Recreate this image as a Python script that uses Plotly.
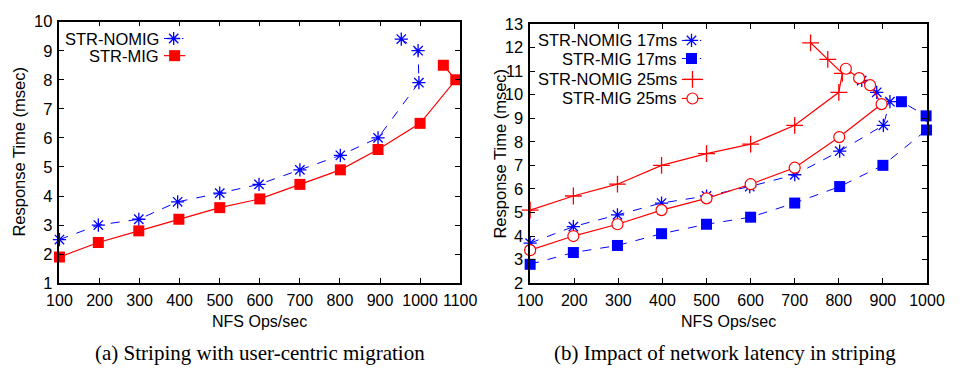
import plotly.graph_objects as go

# ---- data: (a) striping with user-centric migration
a_nomig_x = [100, 197, 298, 395, 500, 598, 700, 801, 895, 997, 995, 953]
a_nomig_y = [2.5, 3.0, 3.2, 3.8, 4.1, 4.4, 4.9, 5.4, 6.0, 7.9, 9.0, 9.4]
a_mig_x = [100, 197, 298, 398, 500, 600, 700, 801, 895, 1000, 1089, 1058]
a_mig_y = [1.9, 2.4, 2.8, 3.2, 3.6, 3.9, 4.4, 4.9, 5.6, 6.5, 8.0, 8.5]

# ---- data: (b) impact of network latency
b_nomig17_x = [100, 198, 298, 398, 500, 598, 700, 802, 901, 916, 886, 852]
b_nomig17_y = [3.7, 4.4, 4.9, 5.4, 5.7, 6.1, 6.6, 7.6, 8.7, 9.7, 10.1, 10.6]
b_mig17_x = [100, 198, 298, 398, 500, 600, 700, 802, 900, 999, 998, 942]
b_mig17_y = [2.8, 3.3, 3.6, 4.1, 4.5, 4.8, 5.4, 6.1, 7.0, 8.5, 9.1, 9.7]
b_nomig25_x = [100, 198, 298, 398, 500, 600, 700, 800, 808, 775, 736]
b_nomig25_y = [5.1, 5.7, 6.2, 7.0, 7.5, 7.9, 8.7, 10.1, 10.9, 11.5, 12.2]
b_mig25_x = [100, 198, 298, 398, 500, 600, 700, 801, 897, 871, 846, 816]
b_mig25_y = [3.4, 4.0, 4.5, 5.1, 5.6, 6.2, 6.9, 8.2, 9.6, 10.4, 10.7, 11.1]

a_xticks = [100, 200, 300, 400, 500, 600, 700, 800, 900, 1000, 1100]
a_yticks = list(range(1, 11))
b_xticks = [100, 200, 300, 400, 500, 600, 700, 800, 900, 1000]
b_yticks = list(range(2, 14))

legend_a = ["STR-NOMIG", "STR-MIG"]
legend_b = ["STR-NOMIG 17ms", "STR-MIG 17ms", "STR-NOMIG 25ms", "STR-MIG 25ms"]
captions = ["(a) Striping with user-centric migration",
            "(b) Impact of network latency in striping"]

W, H = 966, 375
BLUE = "#0000ff"
RED = "#ff0000"
SANS = "Liberation Sans"

styles = {
    "nomig17": dict(mode="lines+markers",
                    line=dict(color=BLUE, width=1, dash="dash"),
                    marker=dict(symbol="asterisk-open", size=11, color=BLUE,
                                line=dict(color=BLUE, width=1.3))),
    "mig17": dict(mode="lines+markers",
                  line=dict(color=BLUE, width=1, dash="dash"),
                  marker=dict(symbol="square", size=11, color=BLUE)),
    "nomig25": dict(mode="lines+markers",
                    line=dict(color=RED, width=1.2),
                    marker=dict(symbol="cross-thin-open", size=12, color=RED,
                                line=dict(color=RED, width=1.3))),
    "mig25": dict(mode="lines+markers",
                  line=dict(color=RED, width=1.2),
                  marker=dict(symbol="circle", size=11, color="white",
                              line=dict(color=RED, width=1.2))),
    "amig": dict(mode="lines+markers",
                 line=dict(color=RED, width=1.2),
                 marker=dict(symbol="square", size=11, color=RED)),
}

fig = go.Figure()

def add(x, y, style, xa, ya):
    fig.add_trace(go.Scatter(x=x, y=y, xaxis=xa, yaxis=ya, showlegend=False,
                             cliponaxis=False, hoverinfo="skip", **styles[style]))

add(a_nomig_x, a_nomig_y, "nomig17", "x", "y")
add(a_mig_x, a_mig_y, "amig", "x", "y")
add(b_mig17_x, b_mig17_y, "mig17", "x2", "y2")
add(b_nomig17_x, b_nomig17_y, "nomig17", "x2", "y2")
add(b_nomig25_x, b_nomig25_y, "nomig25", "x2", "y2")
add(b_mig25_x, b_mig25_y, "mig25", "x2", "y2")

# ---- gnuplot-style legends (text then sample) on a full-page pixel axis
leg_items = [
    (legend_a[0], "nomig17", 152, 156, 176, 31),
    (legend_a[1], "amig", 152, 156, 178, 49),
    (legend_b[0], "nomig17", 687, 691, 711, 33),
    (legend_b[1], "mig17", 687, 691, 711, 52),
    (legend_b[2], "nomig25", 687, 691, 713, 74),
    (legend_b[3], "mig25", 687, 691, 713, 94),
]
annotations = []
for text, st, tx, x0, x1, yy in leg_items:
    s = styles[st]
    fig.add_trace(go.Scatter(x=[x0, x1], y=[yy, yy], xaxis="x3", yaxis="y3",
                             mode="lines", line=s["line"], showlegend=False,
                             hoverinfo="skip", cliponaxis=False))
    fig.add_trace(go.Scatter(x=[(x0 + x1) / 2], y=[yy], xaxis="x3", yaxis="y3",
                             mode="markers", marker=s["marker"], showlegend=False,
                             hoverinfo="skip", cliponaxis=False))
    annotations.append(dict(x=tx / W, y=1 - yy / H, xref="paper", yref="paper",
                            text=text, showarrow=False, xanchor="right",
                            yanchor="middle", borderpad=0,
                            font=dict(family=SANS, size=16.5, color="black")))

# axis titles and captions
for cx in [255 / W, 739 / W]:
    annotations.append(dict(x=cx, y=1 - 328 / H, xref="paper", yref="paper",
                            text="NFS Ops/sec", showarrow=False,
                            xanchor="center", yanchor="middle",
                            font=dict(family=SANS, size=16, color="black")))
for ytx, cy in [(6 / W, 1 - 150 / H), (503 / W, 1 - 152 / H)]:
    annotations.append(dict(x=ytx, y=cy, xref="paper", yref="paper",
                            text="Response Time (msec)", showarrow=False,
                            textangle=-90, xanchor="center", yanchor="middle",
                            font=dict(family=SANS, size=16.5, color="black")))
for cx, t in [(255 / W, captions[0]), (736 / W, captions[1])]:
    annotations.append(dict(x=cx, y=1 - 361 / H, xref="paper", yref="paper",
                            text=t, showarrow=False,
                            xanchor="center", yanchor="middle",
                            font=dict(family="Liberation Serif", size=21, color="black")))

axis_common = dict(showgrid=False, zeroline=False, showline=True, linecolor="black",
                   linewidth=1.5, mirror="allticks", ticks="inside", ticklen=5,
                   tickcolor="black", tickwidth=1)
xfont = dict(family=SANS, size=16, color="black")
yfont = dict(family=SANS, size=16.5, color="black")

fig.update_layout(
    width=W, height=H, margin=dict(l=0, r=0, t=0, b=0),
    paper_bgcolor="white", plot_bgcolor="rgba(0,0,0,0)",
    xaxis=dict(domain=[48 / W, 462 / W], range=[100, 1100], tickvals=a_xticks,
               tickfont=xfont, anchor="y", ticklabelstandoff=2, **axis_common),
    yaxis=dict(domain=[1 - 288 / H, 1 - 13.3 / H], range=[1, 10], tickvals=a_yticks,
               tickfont=yfont, anchor="x", ticklabelstandoff=2, **axis_common),
    xaxis2=dict(domain=[534.3 / W, 944.3 / W], range=[100, 1000], tickvals=b_xticks,
                tickfont=xfont, anchor="y2", ticklabelstandoff=2, **axis_common),
    yaxis2=dict(domain=[1 - 288 / H, 1 - 15.7 / H], range=[2, 13], tickvals=b_yticks,
                tickfont=yfont, anchor="x2", ticklabelstandoff=2, **axis_common),
    xaxis3=dict(domain=[0, 1], range=[0, W], visible=False, anchor="y3",
                fixedrange=True),
    yaxis3=dict(domain=[0, 1], range=[H, 0], visible=False, anchor="x3",
                fixedrange=True),
    annotations=annotations,
)

fig.write_html("out.html")
